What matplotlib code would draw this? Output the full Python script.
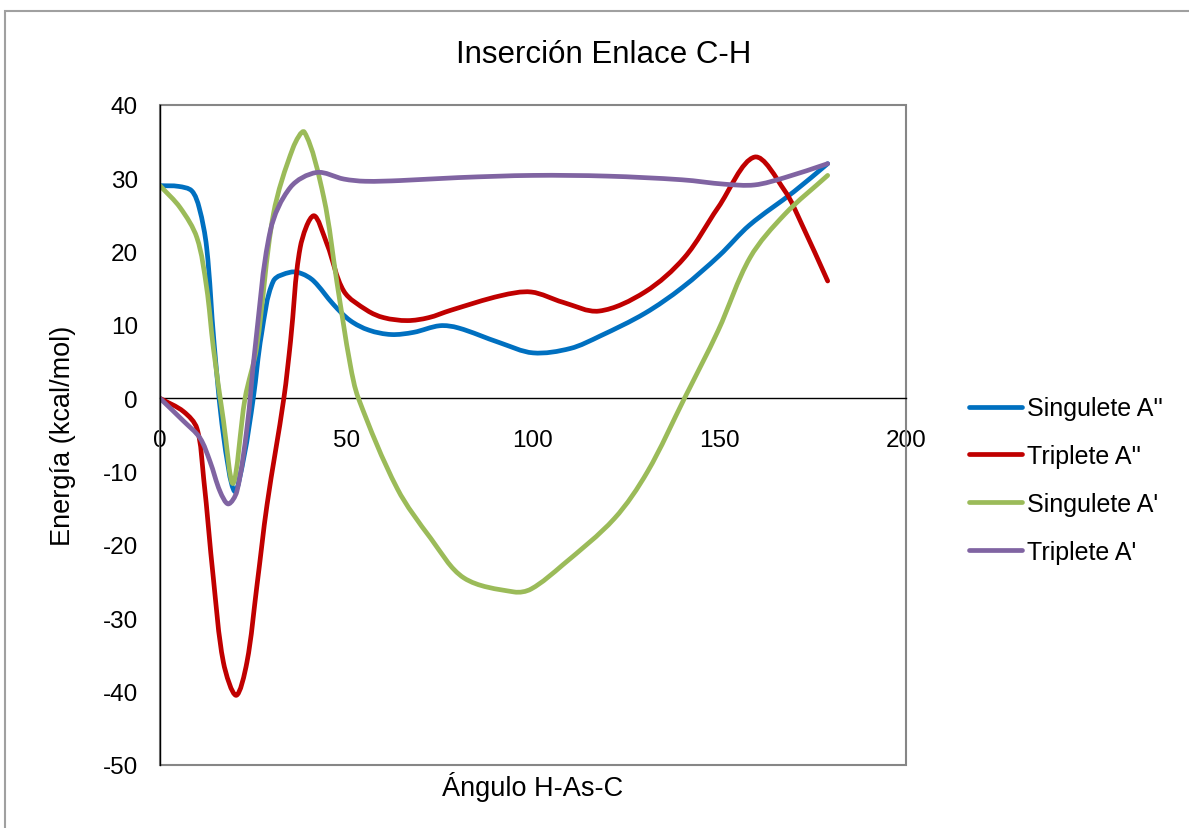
import numpy as np
import matplotlib
matplotlib.use("Agg")
import matplotlib.pyplot as plt
from matplotlib.path import Path
from matplotlib.patches import PathPatch, Rectangle
from matplotlib.lines import Line2D

plt.rcParams["font.family"] = ["Liberation Sans", "DejaVu Sans"]
plt.rcParams["axes.unicode_minus"] = False

# ── Data ──────────────────────────────────────────────────────────────────────

sing_a2_x = [0, 5, 8.5, 10.5, 12.5, 14.5, 17, 20, 22.5, 25, 27.2, 30.4, 35, 38,
             41.2, 46.5, 51, 56, 62, 68, 75, 80, 91, 100, 110, 118, 130, 140, 150,
             158, 170, 179]
sing_a2_y = [29.0, 28.9, 28.3, 26.0, 20.6, 7.5, -5.0, -12.7, -8.0, 0.0, 8.7, 16.0,
             17.2, 17.0, 16.0, 12.8, 10.6, 9.3, 8.7, 9.0, 9.9, 9.6, 7.6, 6.2, 6.8, 8.5,
             11.6, 15.1, 19.5, 23.6, 28.2, 32.0]

trip_a2_x = [0, 6.3, 9.9, 11.7, 14.3, 17, 20.4, 23.3, 26, 28.7, 33.2, 35, 37.6, 41.2,
             44.8, 49.3, 55.5, 60, 66.3, 72, 77.9, 91.4, 99.5, 108, 117.7, 130,
             140.6, 149.6, 159.4, 167.5, 172, 179]
trip_a2_y = [0.0, -1.8, -4.1, -10.9, -24.5, -36.0, -40.5, -36.0, -25.5, -14.5, 0.0, 7.8,
             20.6, 24.9, 21.0, 14.6, 12.0, 11.0, 10.6, 11.0, 12.0, 14.0, 14.5, 13.1,
             11.9, 14.5, 19.2, 26.0, 32.9, 28.3, 23.8, 16.0]

sing_a1_x = [0, 5.4, 9.9, 12.5, 14.3, 17, 19.6, 22.8, 25.9, 30.4, 35.7, 38.7,
             43.9, 47.5, 51, 53.2, 63.6, 72.6, 81.5, 94.9, 99.5, 108, 121.8, 130.7,
             140.6, 149.6, 158.2, 167.5, 179]
sing_a1_y = [29.0, 26.0, 21.9, 15.1, 6.9, -3.0, -11.6, 0.0, 6.9, 25.1, 34.2, 36.3,
             27.4, 15.6, 4.6, 0.0, -12.3, -19.1, -24.5, -26.4, -26.0, -22.7, -16.4,
             -10.0, 0.0, 9.2, 19.2, 25.1, 30.4]

trip_a1_x = [0, 6.3, 10.7, 13.4, 16.1, 18.3, 20.6, 23.3, 25.5, 29.6, 35, 42,
             49.3, 55, 64.5, 80, 100, 120, 140, 151.4, 159.4, 167.5, 179]
trip_a1_y = [0.0, -3.1, -5.4, -8.6, -12.7, -14.4, -12.7, -4.1, 6.9, 22.9, 28.8,
             30.8, 29.9, 29.6, 29.7, 30.1, 30.4, 30.3, 29.8, 29.2, 29.1, 30.1, 32.0]

series_names = ["Singulete A''", "Triplete A''", "Singulete A'", "Triplete A'"]
series_x = [sing_a2_x, trip_a2_x, sing_a1_x, trip_a1_x]
series_y = [sing_a2_y, trip_a2_y, sing_a1_y, trip_a1_y]
colors = ["#0070C0", "#C00000", "#9BBB59", "#8064A2"]

x_ticks = [0, 50, 100, 150, 200]
y_ticks = [40, 30, 20, 10, 0, -10, -20, -30, -40, -50]

# approx. pixels per data unit, used only to measure chord lengths for smoothing
PX_X, PX_Y = 3.73, 7.31


def smooth_path(xs, ys):
    """Smoothed line: cubic Bezier through every point, chord-length tangents."""
    pts = np.column_stack([xs, ys]).astype(float)
    n = len(pts)
    scr = pts * [PX_X, PX_Y]
    d = np.hypot(*np.diff(scr, axis=0).T)
    tang = np.zeros_like(pts)
    tang[0] = (pts[1] - pts[0]) / d[0]
    tang[-1] = (pts[-1] - pts[-2]) / d[-1]
    for i in range(1, n - 1):
        tang[i] = (pts[i + 1] - pts[i - 1]) / (d[i - 1] + d[i])
    verts = [pts[0]]
    codes = [Path.MOVETO]
    for i in range(n - 1):
        verts += [pts[i] + tang[i] * d[i] / 3, pts[i + 1] - tang[i + 1] * d[i] / 3, pts[i + 1]]
        codes += [Path.CURVE4] * 3
    return Path(verts, codes)


# ── Figure ────────────────────────────────────────────────────────────────────

W, H = 1189, 829
fig = plt.figure(figsize=(W / 100, H / 100), dpi=100)

# outer chart border
fig.patches.append(Rectangle((5 / W, -0.05), 1.1, 1 - 12 / H + 0.05, transform=fig.transFigure,
                             fill=False, edgecolor="#A0A0A0", linewidth=1.5))

ax = fig.add_axes([160 / W, (H - 766) / H, (906 - 160) / W, (766 - 106) / H])

for xs, ys, c in zip(series_x, series_y, colors):
    ax.add_patch(PathPatch(smooth_path(xs, ys), fill=False, edgecolor=c,
                           linewidth=3.4, capstyle="round", joinstyle="round", zorder=3))

ax.set_xlim(0, 200)
ax.set_ylim(-50, 40)
ax.set_xticks(x_ticks)
ax.set_yticks(y_ticks)

# x axis crosses at y = 0
ax.spines["bottom"].set_position(("data", 0))
ax.spines["bottom"].set_color("black")
ax.spines["bottom"].set_linewidth(1.0)
ax.spines["left"].set_color("black")
ax.spines["left"].set_linewidth(1.0)
ax.spines["left"].set_zorder(4)
for s in ["top", "right"]:
    ax.spines[s].set_visible(False)
ax.add_patch(Rectangle((0, 0), 1, 1, transform=ax.transAxes, fill=False,
                       edgecolor="#868686", linewidth=1.5, clip_on=False, zorder=2))

ax.tick_params(axis="x", length=0, pad=22, labelsize=17.5)
ax.tick_params(axis="y", length=0, pad=16, labelsize=17.5)

fig.text(604 / W, 1 - 55 / H, "Inserción Enlace C-H", fontsize=22.5, ha="center", va="center")
ax.set_xlabel("Ángulo H-As-C", fontsize=19.5)
ax.xaxis.set_label_coords(0.5, -(787 - 766) / (766 - 106), transform=ax.transAxes)
ax.xaxis.label.set_va("center")
ax.set_ylabel("Energía (kcal/mol)", fontsize=19.5)
ax.yaxis.set_label_coords(-(160 - 63) / (906 - 160), 0.5)
ax.yaxis.label.set_va("center")

handles = [Line2D([0], [0], color=c, linewidth=3.4, solid_capstyle="round")
           for c in colors]
fig.legend(handles, series_names, loc="center left", bbox_to_anchor=(946 / W, 1 - 481 / H),
           frameon=False, fontsize=18, handlelength=2.15, handletextpad=0.2,
           labelspacing=0.95)

fig.savefig("out.png", dpi=100)
